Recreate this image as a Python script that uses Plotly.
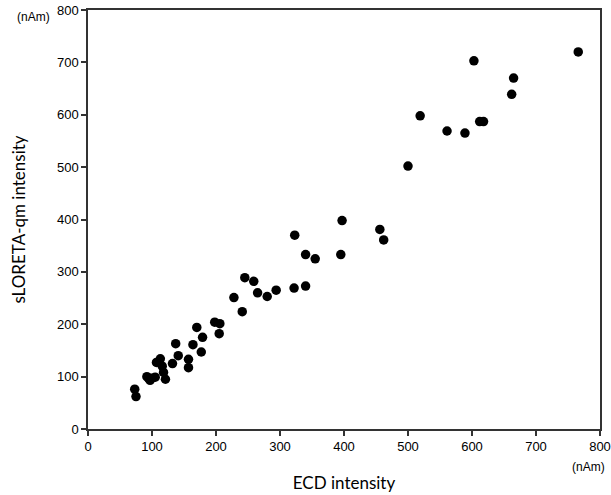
import plotly.graph_objects as go

ecd = [73, 75, 92, 95, 97, 100, 105, 107, 113, 116, 118, 121, 132, 137, 141,
       157, 157, 164, 170, 177, 179, 198, 205, 206, 228, 241, 245, 259, 265,
       280, 294, 322, 323, 340, 340, 355, 395, 397, 456, 462, 500, 519, 561,
       589, 612, 618, 603, 662, 665, 766]
sloreta = [76, 62, 100, 96, 93, 97, 99, 127, 134, 120, 108, 95, 125, 163, 140,
           133, 117, 161, 194, 147, 175, 204, 182, 201, 251, 224, 289, 282, 260,
           253, 265, 269, 370, 273, 333, 325, 333, 398, 381, 361, 502, 598, 569,
           565, 587, 587, 703, 639, 670, 720]
tick_vals = [0, 100, 200, 300, 400, 500, 600, 700, 800]

fig = go.Figure()
fig.add_trace(go.Scatter(
    x=ecd, y=sloreta, mode="markers",
    marker=dict(color="black", size=9.5, line=dict(width=0)),
    showlegend=False,
))

axis_common = dict(
    tickvals=tick_vals, ticktext=[str(v) for v in tick_vals],
    range=[0, 800], showgrid=False, zeroline=False, automargin=False,
    showline=True, linecolor="#333", linewidth=1.5, mirror=True,
    ticks="outside", ticklen=5, tickcolor="#333", tickwidth=1.5,
    ticklabeloverflow="allow",
    tickfont=dict(family="Liberation Sans, Arial", size=13, color="black"),
)
fig.update_xaxes(**axis_common,
                 title=dict(text="ECD intensity", standoff=24,
                            font=dict(family="Lato, Open Sans", size=17, color="black")))
fig.update_yaxes(**axis_common,
                 title=dict(text="sLORETA-qm intensity", standoff=27,
                            font=dict(family="Lato, Open Sans", size=17, color="black")))

fig.add_annotation(text="(nAm)", xref="paper", yref="paper", x=-0.07, y=0.984,
                   xanchor="right", yanchor="middle", showarrow=False,
                   font=dict(family="Liberation Sans, Arial", size=12, color="black"))
fig.add_annotation(text="(nAm)", xref="paper", yref="paper", x=0.977, y=-0.09,
                   xanchor="center", yanchor="middle", showarrow=False,
                   font=dict(family="Liberation Sans, Arial", size=12, color="black"))

fig.update_layout(
    width=611, height=495,
    margin=dict(l=88, r=11, t=10, b=66),
    plot_bgcolor="white", paper_bgcolor="white",
)
fig.write_html("out.html",
               config={"responsive": False, "displayModeBar": False},
               post_script="document.body.style.margin='0';document.body.style.overflow='hidden';")
